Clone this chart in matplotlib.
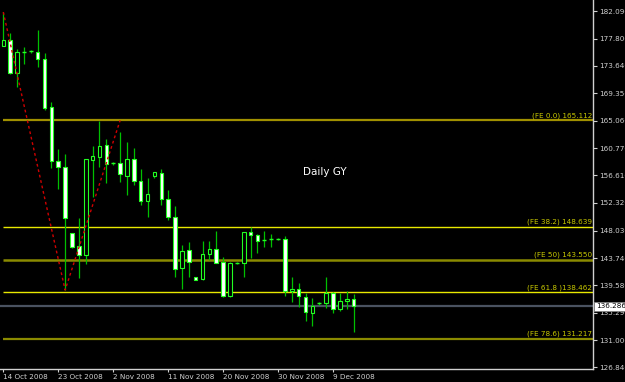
import matplotlib
matplotlib.use("Agg")
import matplotlib.pyplot as plt
from matplotlib.patches import Rectangle
import matplotlib.transforms as mtransforms

# ---- data ----
opens = [176.71, 177.59, 172.43, 175.68, 175.85, 175.78, 174.60, 167.15, 158.78, 157.85,
         147.61, 145.64, 144.25, 158.98, 159.49, 161.31, 158.50, 158.56, 156.50, 159.09,
         155.72, 152.67, 156.50, 156.92, 152.98, 150.19, 142.18, 145.02, 140.79, 140.48,
         144.40, 145.13, 143.11, 137.89, 143.00, 142.96, 147.77, 147.39, 146.57, 146.68,
         146.73, 146.68, 138.71, 138.97, 137.78, 135.30, 136.75, 136.85, 138.40, 135.82,
         137.16, 137.42]
highs = [181.93, 178.63, 176.20, 176.46, 176.04, 179.14, 175.53, 167.98, 160.69, 159.91,
         147.70, 149.94, 159.15, 161.20, 165.08, 162.24, 158.67, 163.28, 161.82, 160.79,
         157.54, 156.23, 157.10, 157.54, 154.33, 151.85, 145.80, 146.31, 140.84, 146.46,
         146.46, 147.97, 143.98, 143.11, 143.10, 147.86, 148.63, 147.50, 147.97, 147.50,
         146.84, 147.19, 140.88, 139.86, 138.40, 137.53, 136.91, 140.79, 138.45, 138.40,
         138.66, 138.20]
lows = [176.66, 172.35, 170.30, 173.87, 175.58, 173.45, 166.74, 157.69, 154.48, 138.81,
        145.33, 140.63, 142.85, 153.29, 157.94, 155.46, 158.20, 155.52, 153.55, 155.10,
        152.00, 150.19, 156.23, 151.95, 149.67, 140.88, 138.95, 140.79, 140.37, 140.37,
        143.47, 142.96, 137.69, 137.78, 142.90, 140.88, 143.73, 144.51, 145.53, 145.44,
        146.62, 137.89, 137.00, 136.13, 134.01, 133.23, 136.49, 135.98, 135.30, 135.61,
        135.82, 132.26]
closes = [177.59, 172.43, 175.68, 175.70, 175.90, 174.60, 167.09, 158.78, 157.85, 149.94,
          145.44, 144.25, 159.09, 159.60, 161.20, 158.31, 158.45, 156.81, 159.09, 155.72,
          152.67, 153.66, 157.07, 152.88, 150.09, 142.12, 144.87, 143.11, 140.41, 144.40,
          145.18, 143.05, 137.89, 142.96, 143.02, 147.77, 147.30, 146.46, 146.59, 146.70,
          146.75, 138.71, 138.90, 137.89, 135.40, 136.34, 136.77, 138.40, 135.82, 137.06,
          137.42, 136.286]

date_labels = ["14 Oct 2008", "23 Oct 2008", "2 Nov 2008", "11 Nov 2008",
               "20 Nov 2008", "30 Nov 2008", "9 Dec 2008"]
date_label_bars = [0, 8, 16, 24, 32, 40, 48]

price_ticks = [182.090, 177.800, 173.640, 169.350, 165.060, 160.770, 156.610,
               152.320, 148.030, 143.740, 139.580, 135.290, 131.000, 126.840]

fe_labels = ["(FE 0.0) 165.112", "(FE 38.2) 148.639", "(FE 50) 143.550",
             "(FE 61.8 )138.462", "(FE 78.6) 131.217"]
fe_levels = [165.112, 148.639, 143.550, 138.462, 131.217]
fe_anchor_bars = [0, 9, 17]
fe_anchor_prices = [181.93, 138.81, 165.112]

last_price = 136.286
chart_title = "Daily GY"

# ---- styling ----
FS = 5.2
BG = "black"
WICK = "#00c000"
EDGE = "#22ff22"
AXC = "#d0d0d0"

fig = plt.figure(figsize=(6.25, 3.82), dpi=100, facecolor=BG)
ax = fig.add_axes([0.0, 12.7 / 382, 593.3 / 625, 369.3 / 382], facecolor=BG)

ax.set_xlim(-0.48, 85.88)
ax.set_ylim(126.52, 183.80)

# Fibonacci expansion levels
fe_colors = ["#a09000", "#e8e800", "#8a8a00", "#e8e800", "#8a8a00"]
fe_widths = [1.6, 1.0, 1.8, 1.0, 1.6]
blend = mtransforms.blended_transform_factory(ax.transAxes, ax.transData)
for lvl, lab, col, lw in zip(fe_levels, fe_labels, fe_colors, fe_widths):
    ax.hlines(lvl, 0, 100, color=col, lw=lw, zorder=1)
    ax.text(0.998, lvl + 0.25, lab, transform=blend, ha="right", va="bottom",
            color="#c8c800", fontsize=FS, zorder=5)

# current price line
ax.axhline(last_price, color="#4a5260", lw=1.6, zorder=1)

# red dashed expansion anchors
ax.plot(fe_anchor_bars, fe_anchor_prices, color="#d00000", lw=1.0,
        ls=(0, (2, 2)), zorder=4)

# candles
bw = 0.52
for i, (o, h, l, c) in enumerate(zip(opens, highs, lows, closes)):
    ax.vlines(i, l, h, color=WICK, lw=0.9, zorder=2)
    if abs(c - o) < 0.12:
        ax.hlines((o + c) / 2, i - bw / 2 - 0.05, i + bw / 2 + 0.05, color=EDGE, lw=1.0, zorder=3)
    else:
        face = "white" if c < o else "black"
        ax.add_patch(Rectangle((i - bw / 2, min(o, c)), bw, abs(c - o),
                               facecolor=face, edgecolor=EDGE, lw=0.8, zorder=3))

ax.text(46.8, 157.1, chart_title, color="white", fontsize=7.5, ha="center",
        va="center", zorder=5)

# axes styling
for s in ["top", "left"]:
    ax.spines[s].set_visible(False)
for s in ["right", "bottom"]:
    ax.spines[s].set_color(AXC)
    ax.spines[s].set_linewidth(1.0)

ax.yaxis.tick_right()
ax.set_yticks(price_ticks)
ax.set_yticklabels([f"{v:.3f}" for v in price_ticks])
ax.tick_params(axis="y", direction="out", length=3, width=0.8, color=AXC,
               labelcolor=AXC, labelsize=FS, pad=1.5)

ax.set_xticks(date_label_bars)
ax.set_xticklabels(date_labels)
for lbl in ax.get_xticklabels():
    lbl.set_ha("left")
ax.tick_params(axis="x", direction="out", length=2.5, width=0.8, color=AXC,
               labelcolor=AXC, labelsize=FS, pad=1.0)

# current price box
ax.text(1.0048, last_price, f"{last_price:.3f}", transform=blend, ha="left",
        va="center", fontsize=FS, color="black", zorder=10, clip_on=False,
        bbox=dict(boxstyle="square,pad=0.25", facecolor="white", edgecolor="#808080", lw=0.6))

fig.savefig("out.png", dpi=100, facecolor=BG)
